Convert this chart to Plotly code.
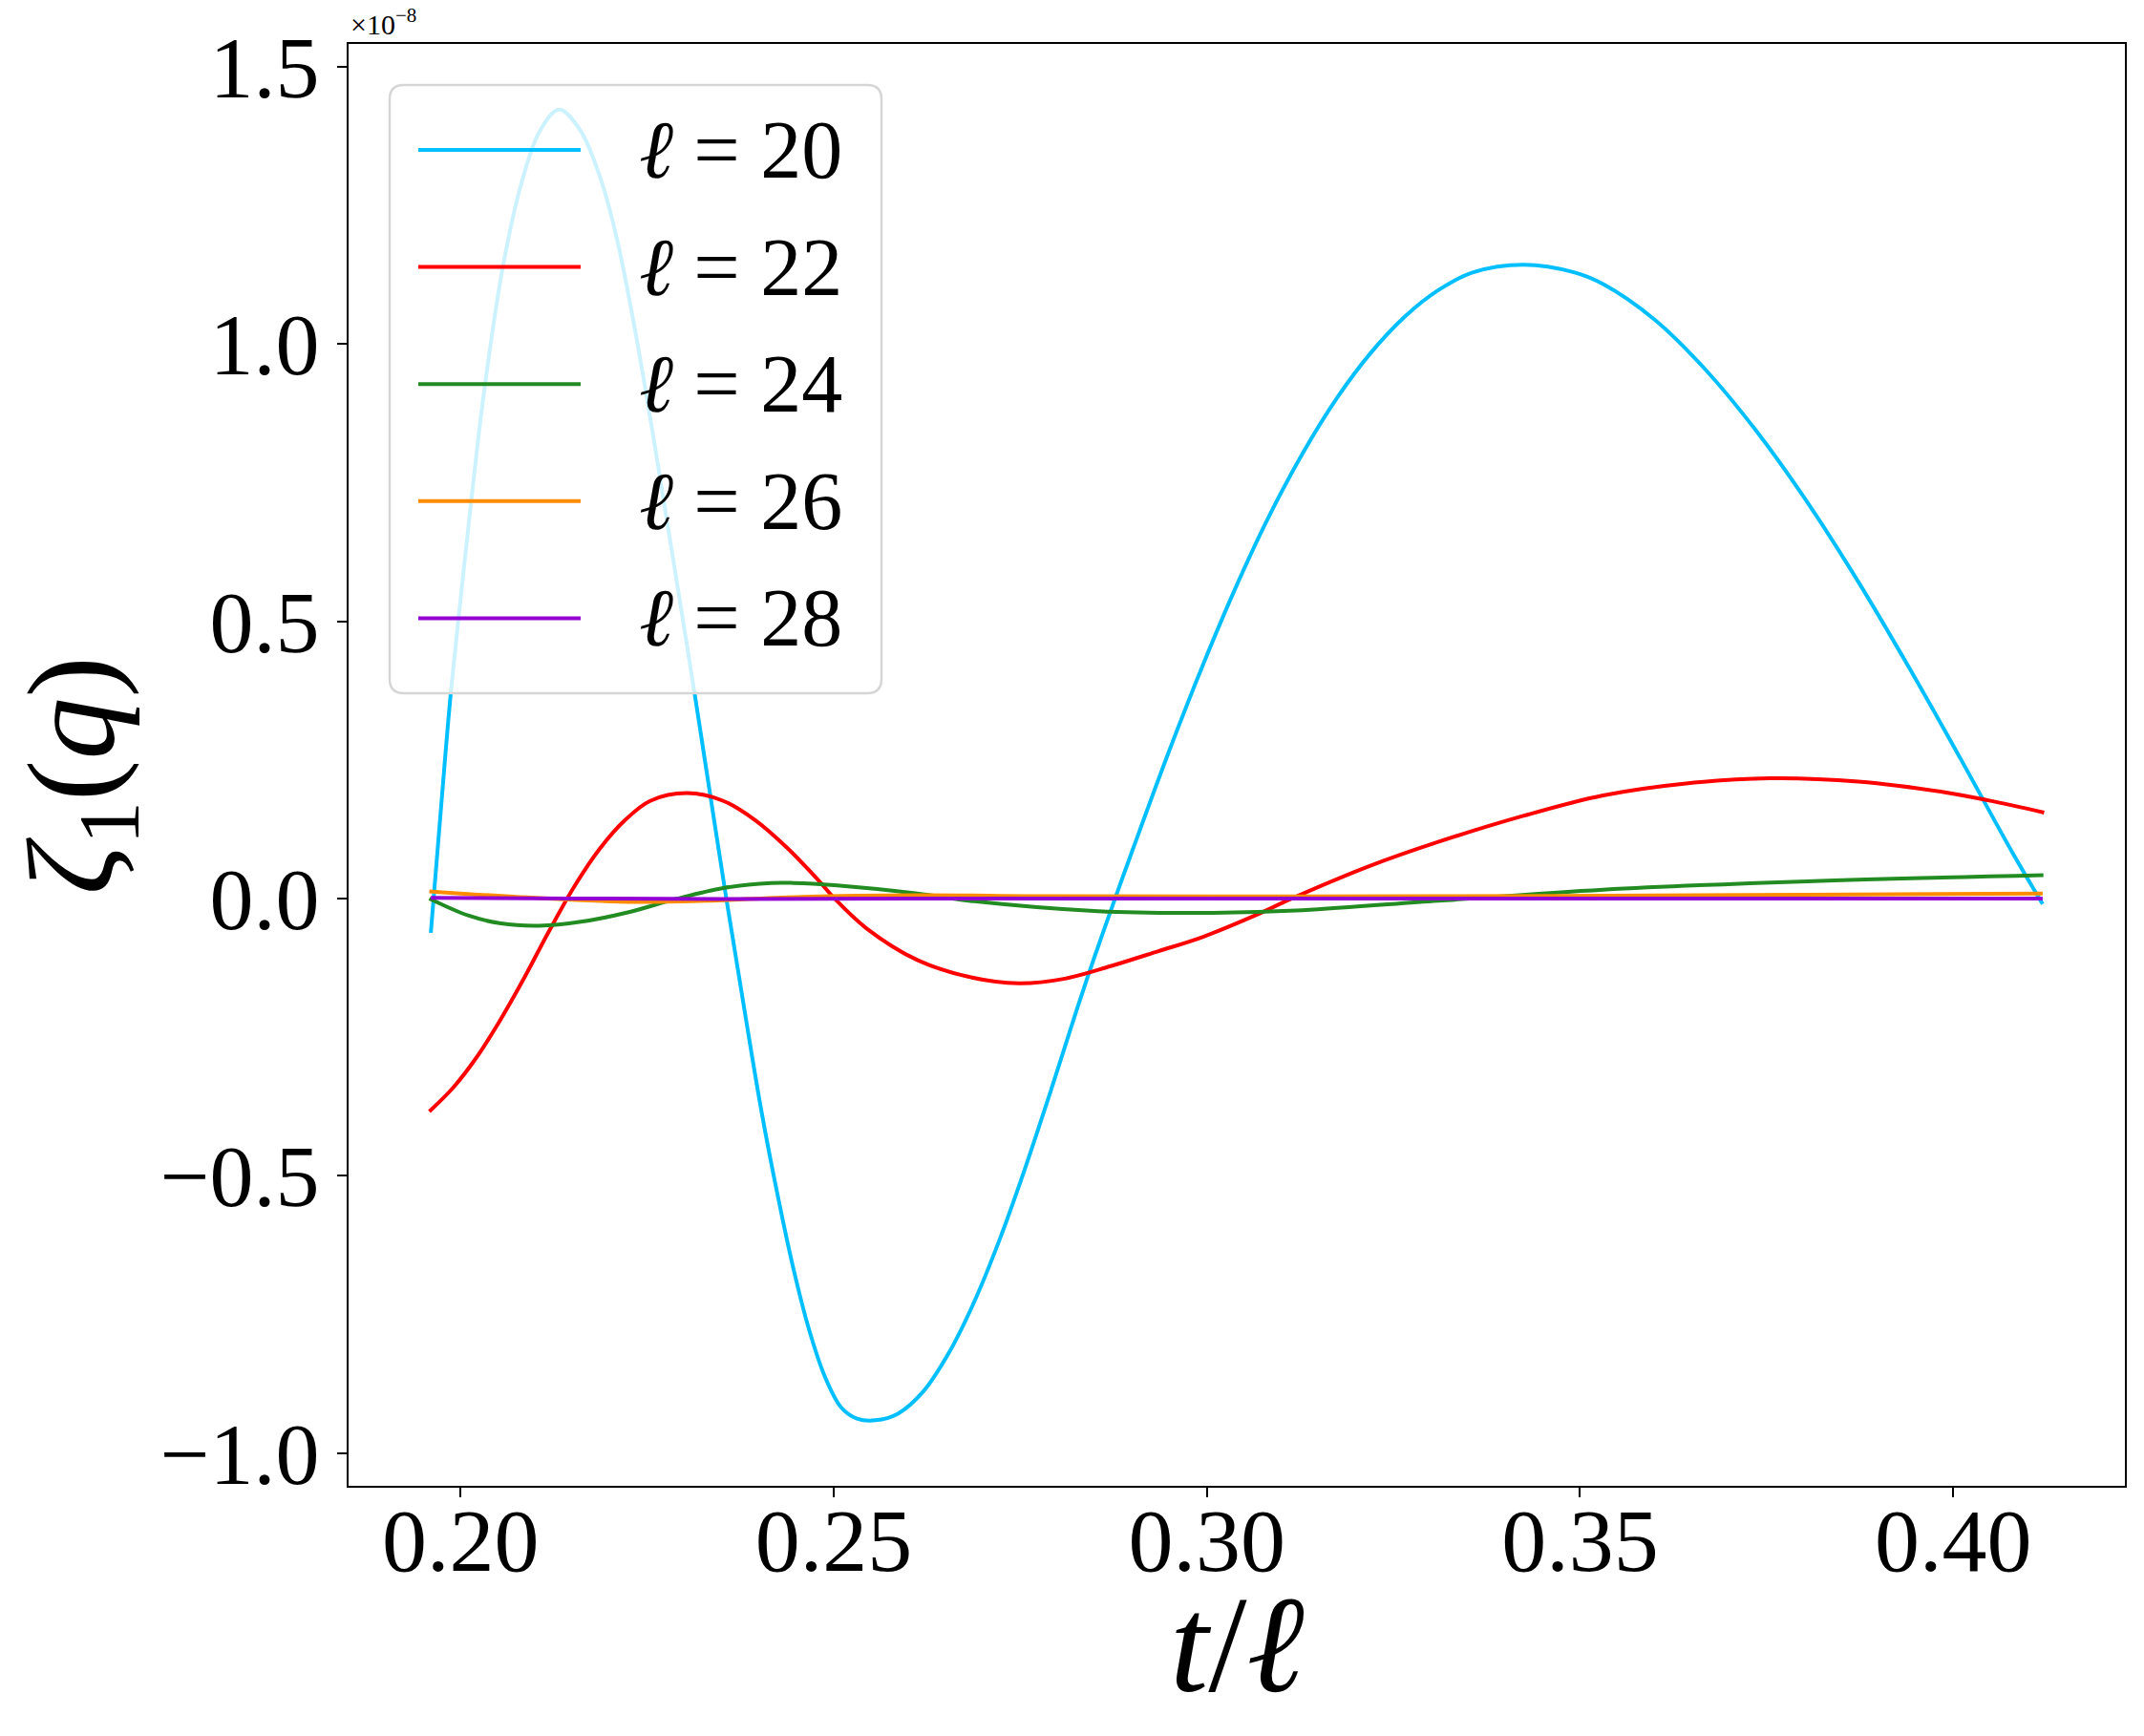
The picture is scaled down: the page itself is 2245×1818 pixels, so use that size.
import plotly.graph_objects as go

# --- data (zeta_1 in units of 1e-8) ---
t_l20 = [0.1960, 0.1979, 0.1987, 0.2000, 0.2014, 0.2031, 0.2056, 0.2081, 0.2106, 0.2132,
         0.2161, 0.2189, 0.2211, 0.2236, 0.2260, 0.2285, 0.2313, 0.2328, 0.2356, 0.2382,
         0.2403, 0.2424, 0.2446, 0.2467, 0.2488, 0.2510, 0.2531, 0.2556, 0.2586, 0.2620,
         0.2654, 0.2688, 0.2722, 0.2756, 0.2791, 0.2825, 0.2850, 0.2877, 0.2900, 0.2946,
         0.2991, 0.3037, 0.3082, 0.3128, 0.3174, 0.3219, 0.3265, 0.3310, 0.3356, 0.3424,
         0.3493, 0.3531, 0.3600, 0.3668, 0.3737, 0.3805, 0.3873, 0.3942, 0.4010, 0.4079,
         0.4120]
z_l20 = [-0.062, 0.251, 0.374, 0.541, 0.715, 0.910, 1.135, 1.288, 1.384, 1.423,
         1.384, 1.292, 1.180, 1.008, 0.818, 0.610, 0.374, 0.243, 0.000, -0.215,
         -0.383, -0.530, -0.668, -0.778, -0.862, -0.918, -0.938, -0.941, -0.929, -0.889,
         -0.820, -0.728, -0.616, -0.488, -0.346, -0.203, -0.103, 0.000, 0.086, 0.254,
         0.409, 0.556, 0.686, 0.802, 0.902, 0.983, 1.049, 1.097, 1.129, 1.143,
         1.129, 1.108, 1.044, 0.954, 0.842, 0.714, 0.571, 0.414, 0.252, 0.084,
         -0.010]

t_l22 = [0.1958, 0.1990, 0.2020, 0.2050, 0.2084, 0.2118, 0.2152, 0.2186, 0.2220, 0.2254,
         0.2303, 0.2352, 0.2395, 0.2437, 0.2480, 0.2501, 0.2544, 0.2612, 0.2680, 0.2748,
         0.2808, 0.2871, 0.2935, 0.2995, 0.3064, 0.3114, 0.3219, 0.3310, 0.3424, 0.3531,
         0.3645, 0.3755, 0.3873, 0.3987, 0.4047, 0.4122]
z_l22 = [-0.384, -0.341, -0.289, -0.226, -0.146, -0.060, 0.021, 0.089, 0.141, 0.176,
         0.190, 0.176, 0.141, 0.092, 0.032, 0.000, -0.054, -0.111, -0.141, -0.153,
         -0.145, -0.122, -0.095, -0.069, -0.031, 0.000, 0.059, 0.102, 0.149, 0.186,
         0.208, 0.217, 0.211, 0.192, 0.177, 0.155]

t_l24 = [0.1958, 0.2011, 0.2054, 0.2105, 0.2161, 0.2224, 0.2288, 0.2352, 0.2416, 0.2446,
         0.2501, 0.2612, 0.2688, 0.2854, 0.2991, 0.3128, 0.3310, 0.3531, 0.3805, 0.4121]
z_l24 = [0.000, -0.031, -0.045, -0.049, -0.042, -0.025, -0.001, 0.019, 0.028, 0.028,
         0.024, 0.009, -0.005, -0.023, -0.026, -0.021, -0.004, 0.016, 0.031, 0.042]

t_l26 = [0.1958, 0.2075, 0.2224, 0.2331, 0.2458, 0.2612, 0.280, 0.330, 0.380, 0.412]
z_l26 = [0.013, 0.003, -0.006, -0.004, 0.003, 0.006, 0.004, 0.004, 0.007, 0.009]

t_l28 = [0.196, 0.215, 0.235, 0.260, 0.300, 0.350, 0.412]
z_l28 = [0.001, 0.000, -0.001, 0.000, 0.000, 0.000, 0.000]

labels = ["20", "22", "24", "26", "28"]
colors = ["#00BFFF", "#FF0000", "#228B22", "#FF8C00", "#9400D3"]

x_ticks = [0.20, 0.25, 0.30, 0.35, 0.40]
x_ticktext = ["0.20", "0.25", "0.30", "0.35", "0.40"]
y_ticks = [-1.0, -0.5, 0.0, 0.5, 1.0, 1.5]
y_ticktext = ["\u22121.0", "\u22120.5", "0.0", "0.5", "1.0", "1.5"]

series = [(t_l20, z_l20), (t_l22, z_l22), (t_l24, z_l24), (t_l26, z_l26), (t_l28, z_l28)]

FONT = "Liberation Serif"
PLOT_W, PLOT_H = 1860, 1510

fig = go.Figure()
for (t, z), lab, col in zip(series, labels, colors):
    fig.add_trace(go.Scatter(x=t, y=z, mode="lines", name=lab,
                             line=dict(color=col, width=4, shape="spline", smoothing=1.0),
                             showlegend=False))

# matplotlib-style 5% margins
all_t = [v for t, _ in series for v in t]
all_z = [v for _, z in series for v in z]
tspan = max(all_t) - min(all_t)
zspan = max(all_z) - min(all_z)
xr = [min(all_t) - 0.05 * tspan, max(all_t) + 0.05 * tspan]
yr = [min(all_z) - 0.05 * zspan, max(all_z) + 0.05 * zspan]

# hand-made legend box (pixel offsets from top-left of plot area)
r = 15
bx0, bx1, by0, by1 = 43, 558, -43, -680
box = (f"M{bx0 + r},{by0} L{bx1 - r},{by0} Q{bx1},{by0} {bx1},{by0 - r} "
       f"L{bx1},{by1 + r} Q{bx1},{by1} {bx1 - r},{by1} L{bx0 + r},{by1} "
       f"Q{bx0},{by1} {bx0},{by1 + r} L{bx0},{by0 - r} Q{bx0},{by0} {bx0 + r},{by0} Z")
shapes = [dict(type="path", path=box, xref="paper", yref="paper",
               xsizemode="pixel", ysizemode="pixel", xanchor=0, yanchor=1,
               fillcolor="rgba(255,255,255,0.8)", line=dict(color="#d6d6d6", width=2.5),
               layer="above")]
annotations = []
for i, (lab, col) in enumerate(zip(labels, colors)):
    yy = -111 - i * 122.6
    shapes.append(dict(type="line", xref="paper", yref="paper",
                       xsizemode="pixel", ysizemode="pixel", xanchor=0, yanchor=1,
                       x0=73, x1=243, y0=yy, y1=yy,
                       line=dict(color=col, width=4), layer="above"))
    annotations.append(dict(xref="paper", yref="paper", x=302 / PLOT_W, y=1 + yy / PLOT_H,
                            xanchor="left", yanchor="middle", showarrow=False,
                            text=f"<i>\u2113</i> = {lab}",
                            font=dict(family=FONT, size=86, color="black")))

# offset text
annotations.append(dict(xref="paper", yref="paper", x=0, y=1, xanchor="left", yanchor="bottom",
                        showarrow=False, text="\u00d710<sup>\u22128</sup>",
                        font=dict(family=FONT, size=30, color="black"), yshift=2))

# axis titles
annotations.append(dict(xref="paper", yref="paper", x=0.5, y=-(1722 - 1556) / PLOT_H,
                        xanchor="center", yanchor="middle", showarrow=False,
                        text="<i>t</i>/<i>\u2113</i>",
                        font=dict(family=FONT, size=145, color="black")))
annotations.append(dict(xref="paper", yref="paper", x=(84 - 365) / PLOT_W, y=1 - (812 - 46) / PLOT_H,
                        xanchor="center", yanchor="middle", showarrow=False, textangle=-90,
                        text="<i>\u03b6</i><sub>1</sub>(<i>q</i>)",
                        font=dict(family=FONT, size=130, color="black")))

# the page body adds an 8px offset, so the margins are shifted to compensate
fig.update_layout(
    width=2245, height=1818,
    margin=dict(l=357, r=28, t=38, b=270),
    paper_bgcolor="white", plot_bgcolor="white",
    font=dict(family=FONT, color="black"),
    shapes=shapes, annotations=annotations,
    showlegend=False,
)
fig.update_xaxes(range=xr, tickvals=x_ticks, ticktext=x_ticktext, automargin=False,
                 showgrid=False, zeroline=False, showline=True, mirror=True,
                 linecolor="black", linewidth=2, ticks="outside", ticklen=10, tickwidth=2,
                 tickcolor="black", tickfont=dict(size=94), ticklabelstandoff=-36)
fig.update_yaxes(range=yr, tickvals=y_ticks, ticktext=y_ticktext, automargin=False,
                 showgrid=False, zeroline=False, showline=True, mirror=True,
                 linecolor="black", linewidth=2, ticks="outside", ticklen=10, tickwidth=2,
                 tickcolor="black", tickfont=dict(size=92), ticklabelstandoff=0)

fig.write_html("out.html")
